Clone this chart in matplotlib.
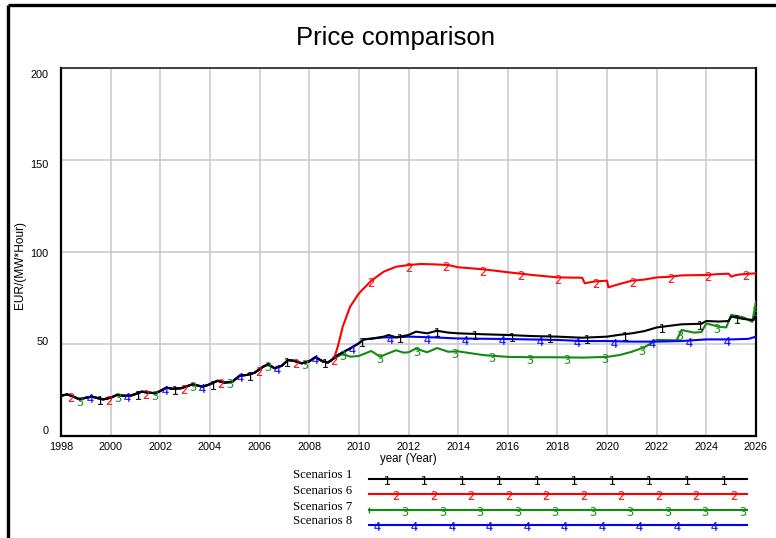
import numpy as np
import matplotlib
matplotlib.use("Agg")
import matplotlib.pyplot as plt
from matplotlib.transforms import ScaledTranslation

# ---------------- data ----------------
years_common = [1998.0, 1998.25, 1998.5, 1998.75, 1999.0, 1999.25, 1999.5, 1999.7,
                2000.0, 2000.25, 2000.5, 2000.8, 2001.0, 2001.25, 2001.45, 2001.8,
                2002.0, 2002.25, 2002.5, 2002.85, 2003.3, 2003.7, 2004.0, 2004.3,
                2004.6, 2004.9, 2005.2, 2005.5, 2005.8, 2006.15, 2006.35, 2006.6,
                2006.9, 2007.15, 2007.4, 2007.7, 2008.0, 2008.25, 2008.55, 2008.75, 2009.0]
price_common = [21.9, 22.6, 21.4, 19.9, 20.8, 21.4, 20.5, 19.9,
                20.8, 22.3, 21.9, 21.9, 22.8, 24.1, 23.7, 23.2,
                24.5, 26.3, 25.6, 26.0, 28.1, 26.8, 28.1, 30.0,
                29.0, 29.5, 32.8, 33.2, 34.4, 37.7, 39.0, 36.8,
                38.2, 41.3, 40.8, 39.5, 40.6, 42.8, 40.5, 39.9, 42.2]

# Scenarios 1 (black) after 2009
years_s1 = [2009.15, 2009.65, 2010.0, 2010.2, 2010.5, 2011.0, 2011.2, 2011.5, 2012.0,
            2012.3, 2012.75, 2013.15, 2013.6, 2014.0, 2015.0, 2016.0, 2017.0, 2018.0,
            2019.0, 2020.0, 2020.5, 2021.0, 2021.5, 2022.0, 2023.0, 2023.8, 2024.0,
            2024.5, 2024.9, 2025.0, 2025.5, 2025.9, 2026.0]
price_s1 = [44.0, 47.6, 50.4, 52.5, 52.9, 54.0, 54.9, 53.6, 54.9,
            56.7, 55.8, 57.2, 56.2, 55.8, 55.3, 54.9, 54.3, 54.0,
            53.4, 54.0, 55.0, 55.8, 57.0, 59.0, 60.7, 61.0, 62.5,
            62.2, 62.5, 64.9, 63.6, 63.0, 66.3]

# Scenarios 6 (red) after 2009
years_s6 = [2009.15, 2009.35, 2009.65, 2010.0, 2010.5, 2011.0, 2011.5, 2012.0, 2012.5,
            2013.0, 2013.6, 2014.0, 2015.0, 2016.0, 2017.0, 2018.0, 2019.0, 2019.1,
            2019.5, 2020.0, 2020.05, 2020.5, 2021.0, 2021.5, 2022.0, 2022.5, 2023.0,
            2024.0, 2024.5, 2024.9, 2025.0, 2025.2, 2025.5, 2026.0]
price_s6 = [48.5, 59.4, 70.3, 77.5, 84.4, 89.3, 92.0, 92.9, 93.5,
            93.3, 92.9, 91.7, 90.6, 89.0, 87.5, 86.2, 86.0, 83.0,
            84.0, 84.4, 80.8, 82.6, 84.4, 85.0, 86.2, 86.5, 87.3,
            87.5, 88.0, 88.2, 86.6, 87.5, 88.0, 88.4]

# Scenarios 7 (green) after 2009
years_s7 = [2009.35, 2009.65, 2010.0, 2010.5, 2010.85, 2011.2, 2011.5, 2011.8, 2012.0,
            2012.3, 2012.75, 2013.15, 2013.6, 2014.0, 2015.0, 2016.0, 2017.0, 2018.0,
            2019.0, 2020.0, 2020.5, 2021.0, 2021.5, 2022.0, 2022.8, 2023.0, 2023.5,
            2023.8, 2024.0, 2024.5, 2024.8, 2025.0, 2025.5, 2025.85, 2026.0]
price_s7 = [44.6, 43.1, 43.5, 46.2, 43.1, 45.0, 46.6, 45.3, 45.5,
            47.5, 45.5, 47.8, 45.8, 46.0, 44.0, 43.0, 42.8, 42.8,
            42.6, 43.0, 44.0, 45.8, 48.2, 52.2, 52.0, 57.6, 56.2,
            56.5, 61.2, 59.4, 59.0, 65.8, 64.5, 62.0, 73.0]

# Scenarios 8 (blue) after 2009
years_s8 = [2009.15, 2009.65, 2010.0, 2010.2, 2010.5, 2011.0, 2011.5, 2012.0, 2013.0,
            2014.0, 2016.0, 2018.0, 2019.0, 2020.0, 2021.0, 2022.0, 2023.0, 2024.0,
            2025.0, 2025.7, 2026.0]
price_s8 = [44.0, 47.6, 50.4, 52.5, 52.9, 53.6, 53.6, 54.0, 53.6,
            53.0, 52.7, 52.2, 51.6, 51.6, 51.3, 51.3, 51.6, 52.5,
            52.5, 52.8, 54.0]

series_names = ["Scenarios 1", "Scenarios 6", "Scenarios 7", "Scenarios 8"]
series_colors = ["#000000", "#ff0000", "#138a13", "#0000ff"]
series_marks = ["1", "2", "3", "4"]
series_z = [3.9, 3.6, 3.5, 3.7]
marker_start = [1999.58, 1998.42, 1998.78, 1999.17]
marker_step = 1.509

series_years = [years_s1, years_s6, years_s7, years_s8]
series_price = [price_s1, price_s6, price_s7, price_s8]

x_ticks = list(range(1998, 2027, 2))
y_ticks = [0, 50, 100, 150, 200]

# ---------------- figure ----------------
W, H = 776, 538
fig = plt.figure(figsize=(W / 100, H / 100), dpi=100)
fig.patch.set_facecolor("white")
sans = ["Liberation Sans", "DejaVu Sans"]
serif = ["Liberation Serif", "DejaVu Serif"]
MK_SIZE = 6.3

ax = fig.add_axes([61 / W, 1 - 436 / H, 695 / W, 368 / H])
ax.set_xlim(1998, 2026)
ax.set_ylim(0, 200)
ax.set_xticks(x_ticks)
ax.set_yticks(y_ticks)
ax.set_xticklabels([str(t) for t in x_ticks], fontfamily=sans, fontsize=7.8)
ax.set_yticklabels([str(t) for t in y_ticks], fontfamily=sans, fontsize=7.8)
ax.tick_params(axis="both", length=0)
ax.tick_params(axis="x", pad=4)
ax.tick_params(axis="y", pad=9)
ax.grid(True, color="#c8c8c8", linewidth=1.1)
ax.set_axisbelow(True)
for side in ["left", "bottom", "right"]:
    ax.spines[side].set_linewidth(1.6)
    ax.spines[side].set_color("black")
ax.spines["top"].set_linewidth(1.2)
ax.spines["top"].set_color("#222222")

# vensim-like y tick label offsets (pixels)
y_label_shift = {0: 6, 50: 3, 100: -1, 150: -4, 200: -6}
for val, lab in zip(y_ticks, ax.get_yticklabels()):
    lab.set_transform(lab.get_transform() +
                      ScaledTranslation(0, y_label_shift[val] / 100, fig.dpi_scale_trans))

for yrs, prc, col, mk, m0, z in zip(series_years, series_price, series_colors,
                                    series_marks, marker_start, series_z):
    x = np.array(years_common + yrs)
    y = np.array(price_common + prc)
    ax.plot(x, y, color=col, linewidth=1.5, solid_joinstyle="round", zorder=z)
    mx = np.arange(m0, 2026.0, marker_step)
    my = np.interp(mx, x, y)
    ax.plot(mx, my - 0.8, linestyle="none", marker=f"${mk}$", markersize=MK_SIZE,
            color=col, markeredgewidth=0.0, zorder=4.5)

ax.set_xlabel("year (Year)", fontfamily=sans, fontsize=8.3)
ax.xaxis.set_label_coords((408 - 61) / 695, (436 - 453) / 368)
ax.set_ylabel("EUR/(MW*Hour)", fontfamily=sans, fontsize=8.6, va="center", ha="center")
ax.yaxis.set_label_coords((20 - 61) / 695, (436 - 265) / 368)

fig.text(396 / W, 1 - 38 / H, "Price comparison", fontfamily=sans, fontsize=18.5,
         ha="center", va="center")

# ---------------- legend (drawn in pixel coords) ----------------
lax = fig.add_axes([0, 0, 1, 1])
lax.set_xlim(0, W)
lax.set_ylim(H, 0)
lax.axis("off")
lax.patch.set_alpha(0)
leg_x0, leg_x1 = 369, 747
leg_rows = [478.5, 494, 509.5, 524.5]
leg_first = [386.7, 396.0, 405.0, 376.7]
leg_step = 37.5
for name, col, mk, ry, f0 in zip(series_names, series_colors, series_marks,
                                  leg_rows, leg_first):
    lax.plot([leg_x0, leg_x1], [ry, ry], color=col, linewidth=1.5)
    mx = np.arange(f0, leg_x1, leg_step)[:10]
    lax.plot(mx, np.full_like(mx, ry + 1), linestyle="none", marker=f"${mk}$",
             markersize=MK_SIZE, color=col, markeredgewidth=0.0)
    lax.text(293, ry - 3, name, fontfamily=serif, fontsize=9.2, ha="left", va="center")
lax.plot([leg_x0], [leg_rows[2]], marker="|", markersize=5, color=series_colors[2],
         linestyle="none")

# ---------------- figure frame ----------------
lax.plot([8, W], [5, 5], color="black", linewidth=2.4, solid_capstyle="butt")
lax.plot([8, 8], [5, H], color="black", linewidth=2.4, solid_capstyle="butt")

fig.savefig("out.png", dpi=100, facecolor="white")
